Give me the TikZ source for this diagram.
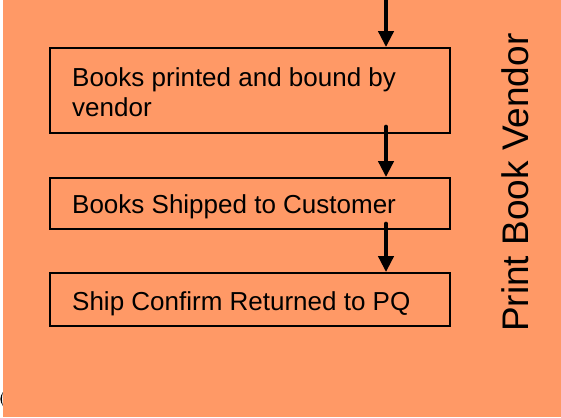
\documentclass[tikz,border=0pt]{standalone}
\usepackage{fontspec}
\setmainfont{Liberation Sans}
\usetikzlibrary{arrows.meta}
\definecolor{lanefill}{RGB}{255,153,102}
\begin{document}
\begin{tikzpicture}[x=1pt,y=-1pt,
  stepbox/.style={draw=black, line width=1.8pt, minimum width=400pt, inner sep=0pt},
  steptext/.style={anchor=base west, font=\fontsize{26}{30}\selectfont, inner sep=0pt, align=left},
  lanetitle/.style={rotate=90, anchor=base west, font=\fontsize{37}{44}\selectfont, inner sep=0pt},
  flow/.style={line width=4.5pt, line cap=round, -{Triangle[length=16pt,width=15pt]}}]
\useasboundingbox (0,0) rectangle (561,417);
% swimlane background
\fill[white] (0,0) rectangle (561,417);
\fill[lanefill] (3,0) rectangle (561,417);
% clipped glyph at the lower left edge
\fill[black] (3,392) .. controls (-0.5,397) and (-0.5,401) .. (3,406) .. controls (1.6,401) and (1.6,397) .. (3,392);

% process steps
\node[stepbox, minimum height=85pt] (b1) at (250,90.5) {};
\node[stepbox, minimum height=51pt] (b2) at (250,203.5) {};
\node[stepbox, minimum height=53pt] (b3) at (250,299.5) {};
% the base anchor of a two-line node sits on its last line
\node[steptext] (t1) at (72,117) {Books printed and bound by\\vendor};
\node[steptext] (t2) at (72,213) {Books Shipped to Customer};
\node[steptext] (t3) at (72,310) {Ship Confirm Returned to PQ};

% lane title
\node[lanetitle] (lane) at (528,332) {Print Book Vendor};

% flow arrows
\coordinate (feed) at (386,0);
\coordinate (s1) at ([yshift=7pt]b1.south);
\coordinate (s2) at ([yshift=6pt]b2.south);
\draw[flow] (feed) -- (feed |- b1.north);
\draw[flow] (s1 -| feed) -- (feed |- b2.north);
\draw[flow] (s2 -| feed) -- (feed |- b3.north);
\end{tikzpicture}
\end{document}
